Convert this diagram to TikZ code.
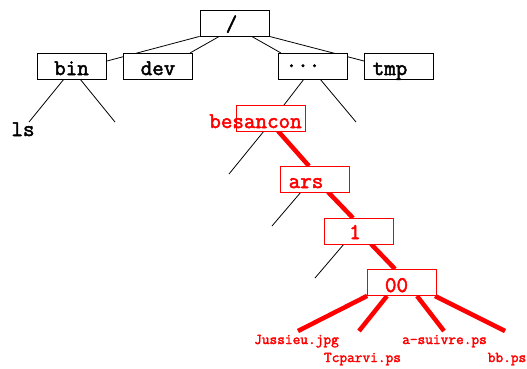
\documentclass[tikz,border=0pt]{standalone}
\usepackage{fontspec}
\newfontfamily\courfont[FakeBold=2.2]{Latin Modern Mono}
\usetikzlibrary{calc}
\pgfdeclarelayer{bg}
\pgfsetlayers{bg,main}
\begin{document}
\begin{tikzpicture}[x=1bp,y=-1bp,
  box/.style={draw=black,line width=0.8bp,fill=white,minimum width=69bp,minimum height=26bp,inner sep=0pt},
  rbox/.style={box,draw=red},
  lbl/.style={anchor=base,inner sep=0pt,font=\fontsize{22.5}{26}\selectfont\courfont},
  rlbl/.style={lbl,text=red},
  flbl/.style={anchor=base,inner sep=0pt,text=red,font=\fontsize{15}{17}\selectfont\courfont},
  thinline/.style={draw=black,line width=0.8bp},
  pathline/.style={draw=red,line width=4.5bp}
]
\useasboundingbox (0,0) rectangle (527,368);
% boxes
\node[box] (root) at (234.5,23) {};
\node[box] (bin) at (72,66) {};
\node[box] (dev) at (157.5,66) {};
\node[box] (dots) at (312.5,66) {};
\node[box] (tmp) at (398.5,66) {};
\node[rbox] (bes) at (271,118) {};
\node[rbox] (ars) at (315,179) {};
\node[rbox] (one) at (358.5,231) {};
\node[rbox] (zz) at (402,282.5) {};
% labels
\node[lbl] (troot) at (231.5,31) {/};
\node[lbl] (tbin) at (71.5,75) {bin};
\node[lbl] (tdev) at (158,75) {dev};
\node[lbl] (tdots) at (303,67) {...};
\node[lbl] (ttmp) at (390,75) {tmp};
\node[lbl] (tls) at (23,136) {ls};
\node[rlbl] (tbes) at (255.5,128) {besancon};
\node[rlbl] (tars) at (306,188) {ars};
\node[rlbl] (tone) at (355,239) {1};
\node[rlbl] (tzz) at (396.5,292) {00};
\node[flbl] (f1) at (296.5,344) {Jussieu.jpg};
\node[flbl] (f2) at (362.5,362) {Tcparvi.ps};
\node[flbl] (f3) at (444.5,344) {a-suivre.ps};
\node[flbl] (f4) at (507,362) {bb.ps};
% free ends
\coordinate (binR) at (107,61);
\coordinate (tmpL) at (364,61);
\coordinate (devT) at (190,53);
\coordinate (dotsT) at (281,53);
\coordinate (r1) at (220,36);
\coordinate (r2) at (251,36);
\coordinate (b1) at (64,79);
\coordinate (b2) at (80,79);
\coordinate (lsE) at (29,122);
\coordinate (binE) at (115,122);
\coordinate (d1) at (304,79);
\coordinate (d2) at (320,79);
\coordinate (besT) at (284,105);
\coordinate (dE) at (356,122);
\coordinate (s1) at (264,131);
\coordinate (s2) at (278,131);
\coordinate (sE) at (229,174);
\coordinate (arsT) at (309,166);
\coordinate (a1) at (301,192);
\coordinate (a2) at (328,192);
\coordinate (aE) at (272,226);
\coordinate (oneT) at (353,218);
\coordinate (o1) at (344,244);
\coordinate (o2) at (371,244);
\coordinate (oE) at (315,278);
\coordinate (zzT) at (395,269);
\coordinate (z2) at (387,296);
\coordinate (z3) at (417,296);
\coordinate (z4) at (435,296);
\coordinate (e1) at (298,331);
\coordinate (e2) at (359,331);
\coordinate (e3) at (444,331);
\coordinate (e4) at (505,331);
\begin{pgfonlayer}{bg}
\draw[thinline] (root.south west) -- (binR);
\draw[thinline] (r1) -- (devT);
\draw[thinline] (r2) -- (dotsT);
\draw[thinline] (root.south east) -- (tmpL);
\draw[thinline] (b1) -- (lsE);
\draw[thinline] (b2) -- (binE);
\draw[thinline] (d1) -- (besT);
\draw[thinline] (d2) -- (dE);
\draw[thinline] (s1) -- (sE);
\draw[thinline] (a1) -- (aE);
\draw[thinline] (o1) -- (oE);
\draw[pathline] (s2) -- (arsT);
\draw[pathline] (a2) -- (oneT);
\draw[pathline] (o2) -- (zzT);
\draw[pathline] (zz.south west) -- (e1);
\draw[pathline] (z2) -- (e2);
\draw[pathline] (z3) -- (e3);
\draw[pathline] (z4) -- (e4);
\end{pgfonlayer}
\end{tikzpicture}
\end{document}
